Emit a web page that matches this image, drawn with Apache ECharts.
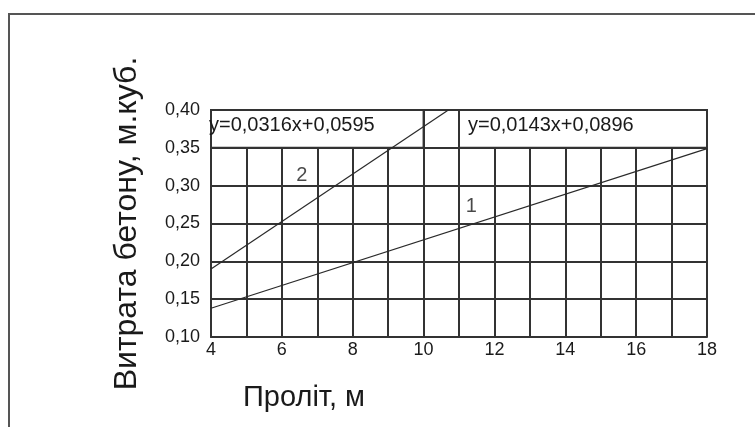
<!DOCTYPE html>
<html><head><meta charset="utf-8">
<script src="https://cdn.jsdelivr.net/npm/echarts@6/dist/echarts.min.js"></script>
<style>html,body{margin:0;padding:0;background:#fff}#c{width:755px;height:427px}</style>
</head><body><div id="c"></div>
<script>
// data
const xMin = 4, xMax = 18, xStep = 1;
const yMin = 0.10, yMax = 0.40, yStep = 0.05;
const line1 = [[4, 0.138], [18, 0.349]];          // curve 1
const line2 = [[4, 0.190], [10.7, 0.400]];        // curve 2
const eq1 = 'y=0,0316x+0,0595';
const eq2 = 'y=0,0143x+0,0896';
const box1 = [[4, 0.35], [10, 0.40]];
const box2 = [[11, 0.35], [18, 0.40]];
const curveLabels = [[6.56, 0.314, '2'], [11.35, 0.272, '1']];
const yTitle = 'Витрата бетону, м.куб.';
const xTitle = 'Проліт, м';

const FONT = 'Liberation Sans, Arial, sans-serif';
const TXT = '#1a1a1a';
const GRID = '#333';

const chart = echarts.init(document.getElementById('c'), null, {renderer: 'canvas'});
chart.setOption({
  animation: false,
  backgroundColor: '#fff',
  grid: {left: 211, right: 48, top: 110, bottom: 90, containLabel: false},
  xAxis: {
    type: 'value', min: xMin, max: xMax, interval: xStep,
    axisLine: {show: true, lineStyle: {color: GRID, width: 2}},
    axisTick: {show: false},
    splitLine: {show: true, lineStyle: {color: GRID, width: 2}},
    axisLabel: {
      margin: 4, fontSize: 18, color: TXT, fontFamily: FONT,
      formatter: v => (v % 2 === 0 ? String(v) : '')
    }
  },
  yAxis: {
    type: 'value', min: yMin, max: yMax, interval: yStep,
    name: yTitle, nameLocation: 'middle', nameRotate: 90, nameGap: 68,
    nameTextStyle: {fontSize: 32, color: TXT, fontFamily: FONT},
    axisLine: {show: true, lineStyle: {color: GRID, width: 2}},
    axisTick: {show: false},
    splitLine: {show: true, lineStyle: {color: GRID, width: 2}},
    axisLabel: {
      margin: 11, fontSize: 18, color: TXT, fontFamily: FONT,
      formatter: v => v.toFixed(2).replace('.', ',')
    }
  },
  series: [
    {
      type: 'line', data: [], silent: true,
      markArea: {
        silent: true,
        itemStyle: {color: '#fff', borderColor: GRID, borderWidth: 2},
        label: {show: true, position: 'insideLeft', fontSize: 20, color: TXT, fontFamily: FONT},
        data: [
          [{coord: box1[0], label: {formatter: eq1, distance: 0, offset: [-1, -3]}}, {coord: box1[1]}],
          [{coord: box2[0], label: {formatter: eq2, distance: 10, offset: [0, -3]}}, {coord: box2[1]}]
        ]
      }
    },
    {type: 'line', z: 3, data: line1, symbol: 'none', silent: true, lineStyle: {color: '#2a2a2a', width: 1.2}},
    {type: 'line', z: 3, data: line2, symbol: 'none', silent: true, lineStyle: {color: '#2a2a2a', width: 1.2}},
    {
      type: 'scatter', z: 4, symbolSize: 0, silent: true,
      data: curveLabels,
      label: {show: true, position: 'inside', formatter: p => p.value[2], fontSize: 20, color: TXT, fontFamily: FONT}
    }
  ],
  graphic: [
    {type: 'polyline', silent: true, shape: {points: [[9, 427], [9, 14], [755, 14]]}, style: {stroke: '#555', lineWidth: 2, fill: null}},
    {type: 'text', silent: true, left: 243, top: 383, style: {text: xTitle, fontSize: 29, fill: TXT, fontFamily: FONT}}
  ]
});
</script>
</body></html>
